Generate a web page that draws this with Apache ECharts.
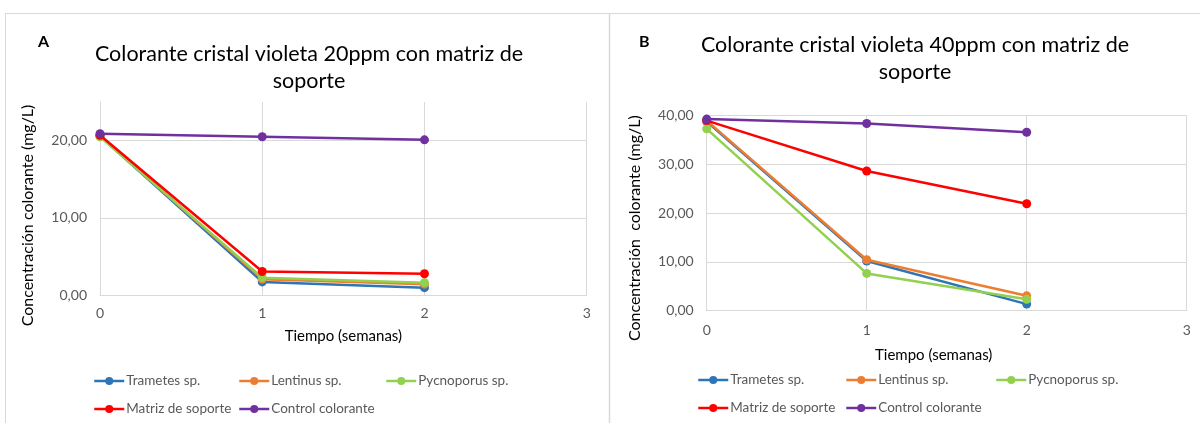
<!DOCTYPE html>
<html>
<head>
<meta charset="utf-8">
<script src="https://cdn.jsdelivr.net/npm/echarts@6/dist/echarts.min.js"></script>
<style>
  html, body { margin: 0; padding: 0; background: #ffffff; }
  #chart { width: 1200px; height: 423px; }
</style>
</head>
<body>
<div id="chart"></div>
<script>
// Sampling times (weeks)
const weeks = [0, 1, 2];

// Panel A: crystal violet 20 ppm (mg/L)
const trametesA   = [20.6, 1.7, 0.95];
const lentinusA   = [20.6, 2.05, 1.4];
const pycnoporusA = [20.5, 2.25, 1.6];
const matrizA     = [20.7, 3.05, 2.75];
const controlA    = [20.9, 20.5, 20.1];

// Panel B: crystal violet 40 ppm (mg/L)
const trametesB   = [38.8, 10.2, 1.35];
const lentinusB   = [39.0, 10.45, 3.05];
const pycnoporusB = [37.3, 7.65, 2.35];
const matrizB     = [39.0, 28.65, 21.95];
const controlB    = [39.3, 38.4, 36.6];

const seriesNames = ['Trametes sp.', 'Lentinus sp.', 'Pycnoporus sp.', 'Matriz de soporte', 'Control colorante'];
const seriesColors = ['#2E75B6', '#ED7D31', '#92D050', '#FF0000', '#7030A0'];
const panelA = [trametesA, lentinusA, pycnoporusA, matrizA, controlA];
const panelB = [trametesB, lentinusB, pycnoporusB, matrizB, controlB];

const FONT = 'Lato';
const GRID_COLOR = '#d9d9d9';
const LABEL_COLOR = '#595959';

function pairs(values) {
  return weeks.map((w, i) => [w, values[i]]);
}

function makeSeries(values, idx, gridIdx) {
  return {
    name: seriesNames[idx],
    type: 'line',
    xAxisIndex: gridIdx,
    yAxisIndex: gridIdx,
    data: pairs(values),
    symbol: 'circle',
    symbolSize: 9,
    showSymbol: true,
    color: seriesColors[idx],
    lineStyle: { width: 2.5, color: seriesColors[idx] },
    itemStyle: { color: seriesColors[idx] },
    emphasis: { disabled: true },
    animation: false,
    z: 2 + idx
  };
}

function commaFmt(v) {
  return v.toFixed(2).replace('.', ',');
}

function xAxisFor(gridIdx, nameGap, namePad, labelMargin) {
  return {
    type: 'value',
    gridIndex: gridIdx,
    min: 0, max: 3, interval: 1,
    name: 'Tiempo (semanas)',
    nameLocation: 'middle',
    nameGap: nameGap,
    nameTextStyle: { fontFamily: FONT, fontSize: 15, color: '#000000', padding: namePad },
    axisLine: { show: true, lineStyle: { color: GRID_COLOR, width: 1 } },
    axisTick: { show: false },
    axisLabel: { fontFamily: FONT, fontSize: 14, color: LABEL_COLOR, margin: labelMargin },
    splitLine: { show: true, lineStyle: { color: GRID_COLOR, width: 1 } }
  };
}

function yAxisFor(gridIdx, max, title, namePad) {
  return {
    type: 'value',
    gridIndex: gridIdx,
    min: 0, max: max, interval: 10,
    name: title,
    nameLocation: 'middle',
    nameRotate: 90,
    nameGap: 64,
    nameTextStyle: { fontFamily: FONT, fontSize: 16, color: '#000000', padding: namePad },
    axisLine: { show: true, lineStyle: { color: GRID_COLOR, width: 1 } },
    axisTick: { show: false },
    axisLabel: {
      fontFamily: FONT, fontSize: 14, color: LABEL_COLOR, margin: 13,
      showMaxLabel: max % 10 === 0,
      formatter: commaFmt
    },
    splitLine: {
      show: true,
      showMaxLine: max % 10 === 0,
      lineStyle: { color: GRID_COLOR, width: 1 }
    }
  };
}

// One legend block per entry so the columns line up like a two-row key
function legendItem(name, left, top) {
  return {
    data: [name],
    left: left,
    top: top,
    padding: 0,
    itemWidth: 30,
    itemHeight: 10,
    itemGap: 0,
    selectedMode: false,
    lineStyle: { width: 2.5 },
    textStyle: { fontFamily: FONT, fontSize: 13.5, color: LABEL_COLOR, padding: [0, 0, 0, -3] }
  };
}

const legendColsA = [93, 238, 385];
const legendColsB = [697, 845, 995];
const legends = [];
[0, 1, 2].forEach(i => legends.push(legendItem(seriesNames[i], legendColsA[i], 374)));
[3, 4].forEach((n, i) => legends.push(legendItem(seriesNames[n], legendColsA[i], 402)));
[0, 1, 2].forEach(i => legends.push(legendItem(seriesNames[i], legendColsB[i], 373)));
[3, 4].forEach((n, i) => legends.push(legendItem(seriesNames[n], legendColsB[i], 401)));

const chart = echarts.init(document.getElementById('chart'), null, { renderer: 'canvas' });

chart.setOption({
  backgroundColor: '#ffffff',
  animation: false,
  title: [
    {
      text: 'Colorante cristal violeta 20ppm con matriz de\nsoporte',
      left: 304, top: 36, textAlign: 'center',
      textStyle: { fontFamily: FONT, fontSize: 21.5, fontWeight: 'normal', color: '#000000', lineHeight: 27 }
    },
    {
      text: 'Colorante cristal violeta 40ppm con matriz de\nsoporte',
      left: 910, top: 27, textAlign: 'center',
      textStyle: { fontFamily: FONT, fontSize: 21.5, fontWeight: 'normal', color: '#000000', lineHeight: 27 }
    },
    {
      text: 'A', left: 33, top: 29,
      textStyle: { fontFamily: FONT, fontSize: 16, fontWeight: 'bold', color: '#000000' }
    },
    {
      text: 'B', left: 634, top: 29,
      textStyle: { fontFamily: FONT, fontSize: 16, fontWeight: 'bold', color: '#000000' }
    }
  ],
  legend: legends,
  grid: [
    { left: 100, top: 102, width: 486.7, height: 193, containLabel: false },
    { left: 706.7, top: 115.7, width: 480, height: 195, containLabel: false }
  ],
  xAxis: [xAxisFor(0, 34, [0, 0, 0, 0], 11), xAxisFor(1, 37, [0, 26, 0, 0], 13)],
  yAxis: [
    yAxisFor(0, 25, 'Concentración colorante (mg/L)', [0, 34, 0, 0]),
    yAxisFor(1, 40, 'Concentración  colorante (mg/L)', [0, 30, 0, 0])
  ],
  series: [
    ...panelA.map((v, i) => makeSeries(v, i, 0)),
    ...panelB.map((v, i) => makeSeries(v, i, 1))
  ],
  graphic: [
    { type: 'line', silent: true, shape: { x1: 5, y1: 13.5, x2: 1200, y2: 13.5 }, style: { stroke: GRID_COLOR, lineWidth: 1 } },
    { type: 'line', silent: true, shape: { x1: 5.5, y1: 13, x2: 5.5, y2: 423 }, style: { stroke: GRID_COLOR, lineWidth: 1 } },
    { type: 'line', silent: true, shape: { x1: 609.5, y1: 13, x2: 609.5, y2: 423 }, style: { stroke: GRID_COLOR, lineWidth: 1.5 } }
  ]
});
</script>
</body>
</html>
